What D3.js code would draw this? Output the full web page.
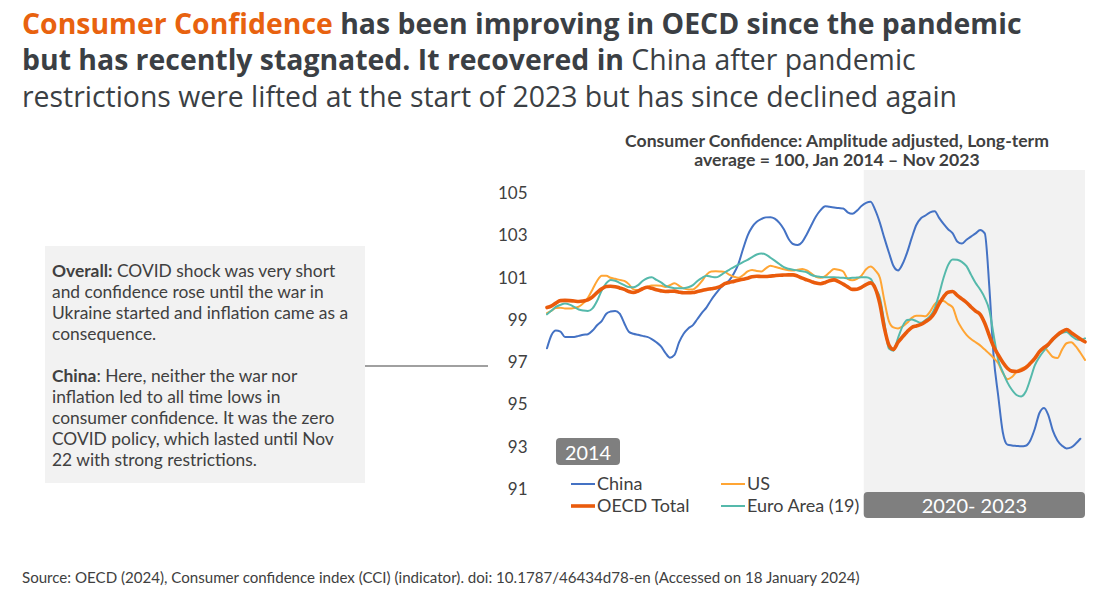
<!DOCTYPE html>
<html><head><meta charset="utf-8">
<script src="https://cdn.jsdelivr.net/npm/d3@7"></script>
<style>body{margin:0;background:#fff} svg{display:block}</style>
</head><body>
<svg id="c" width="1096" height="600"></svg>
<script>
// Monthly values, Jan 2014 onward (China ends Oct 2023, others Nov 2023)
const china = [97.66,98.3,98.5,98.45,98.2,98.2,98.2,98.25,98.3,98.33,98.5,98.75,
98.95,99.3,99.4,99.43,99.3,98.85,98.45,98.35,98.3,98.25,98.2,98.1,
97.95,97.75,97.45,97.22,97.35,97.95,98.35,98.6,98.76,99.05,99.35,99.6,
99.95,100.25,100.5,100.7,100.87,101.2,101.65,102.35,103.0,103.4,103.65,103.78,
103.86,103.87,103.8,103.6,103.3,102.85,102.6,102.55,102.7,103.06,103.5,103.9,
104.2,104.39,104.36,104.33,104.3,104.28,104.1,104.03,104.18,104.4,104.55,104.6,
104.2,103.6,102.9,102.2,101.57,101.35,101.65,102.2,102.9,103.5,103.82,103.95,
104.1,104.15,103.85,103.55,103.3,103.1,102.72,102.62,102.8,102.95,103.1,103.26,
103.1,100.5,97.3,95.4,93.7,93.1,93.06,93.04,93.02,93.05,93.3,93.85,
94.6,94.84,94.5,93.75,93.3,93.05,92.92,92.97,93.15,93.38];
const oecd = [99.59,99.67,99.8,99.92,99.93,99.92,99.9,99.88,99.9,99.95,100.1,100.3,
100.48,100.59,100.6,100.58,100.52,100.45,100.35,100.3,100.37,100.48,100.55,100.5,
100.43,100.38,100.35,100.36,100.37,100.32,100.29,100.29,100.3,100.35,100.4,100.45,
100.48,100.52,100.58,100.72,100.78,100.83,100.88,100.93,100.98,101.05,101.07,101.06,
101.06,101.08,101.1,101.12,101.13,101.14,101.14,101.08,100.98,100.9,100.82,100.75,
100.72,100.78,100.86,100.9,100.82,100.7,100.57,100.45,100.46,100.55,100.68,100.76,
100.5,99.75,98.65,97.82,97.61,97.95,98.2,98.45,98.65,98.72,98.79,98.92,
99.07,99.35,99.75,100.1,100.32,100.35,100.17,100.0,99.83,99.62,99.42,99.27,
98.85,98.25,97.75,97.35,97.0,96.72,96.58,96.56,96.62,96.74,96.95,97.18,
97.5,97.7,97.85,98.1,98.3,98.45,98.55,98.4,98.25,98.1,97.97];
const us = [99.33,99.45,99.57,99.58,99.55,99.54,99.57,99.63,99.8,100.05,100.45,100.85,
101.1,101.1,101.0,100.95,100.9,100.85,100.7,100.45,100.42,100.5,100.58,100.63,
100.63,100.62,100.56,100.65,100.74,100.62,100.5,100.45,100.45,100.6,100.85,101.15,
101.3,101.31,101.3,101.28,101.15,101.05,101.0,101.12,101.3,101.37,101.32,101.3,
101.45,101.57,101.52,101.46,101.4,101.36,101.34,101.38,101.42,101.35,101.2,101.05,
101.0,101.08,101.25,101.42,101.38,101.3,100.95,100.88,100.95,101.1,101.4,101.53,
101.35,101.0,99.95,98.95,98.65,98.6,98.7,98.87,99.1,99.2,99.2,99.18,
99.4,99.75,99.9,99.9,99.75,99.6,99.0,98.6,98.3,98.1,97.95,97.8,
97.6,97.4,97.2,96.95,96.5,96.2,96.3,96.55,96.7,96.8,96.95,97.2,
97.5,97.7,97.5,97.25,97.2,97.6,97.9,97.95,97.75,97.45,97.11];
const euro = [99.27,99.45,99.62,99.72,99.78,99.73,99.62,99.5,99.45,99.43,99.55,99.9,
100.4,100.75,100.9,100.86,100.76,100.65,100.56,100.55,100.65,100.85,100.98,101.02,
100.9,100.78,100.63,100.55,100.51,100.5,100.51,100.55,100.65,100.85,101.0,101.1,
101.05,101.02,101.1,101.25,101.38,101.5,101.62,101.74,101.85,101.98,102.1,102.15,
102.1,101.95,101.81,101.65,101.5,101.43,101.38,101.35,101.31,101.26,101.13,101.07,
101.04,101.02,101.02,101.02,101.01,101.0,100.98,101.0,101.01,101.02,101.02,100.95,
100.5,100.05,98.9,97.65,97.55,98.15,98.7,99.0,99.02,98.95,98.87,99.0,
99.18,99.55,100.2,101.0,101.6,101.87,101.85,101.75,101.55,101.15,100.75,100.45,
100.05,99.45,98.3,97.1,96.55,96.05,95.7,95.45,95.38,95.6,96.2,96.85,
97.25,97.55,97.8,98.05,98.25,98.4,98.43,98.26,98.1,98.05,98.13];
const seriesNames = ["China","US","Euro Area (19)","OECD Total"];
const yTicks = [91,93,95,97,99,101,103,105];

const months = d3.timeMonth.range(new Date(2014,0,1), new Date(2023,11,1));
const svg = d3.select("#c");
const TXT = "#404040";

const x = d3.scaleTime().domain([months[0], months[months.length-1]]).range([547,1085]);
const y = d3.scaleLinear().domain([91,105]).range([489,193.3]);

// title
const TF = "28.4px";
const title = svg.append("text").attr("x",22).attr("y",34)
  .style("font-family","'Open Sans'").style("font-size",TF).attr("fill","#3b3f44");
title.append("tspan").attr("font-weight",700).attr("fill","#e8620f").text("Consumer Confidence");
title.append("tspan").attr("font-weight",700).text(" has been improving in OECD since the pandemic");
const t2 = svg.append("text").attr("x",22).attr("y",70)
  .style("font-family","'Open Sans'").style("font-size",TF).attr("fill","#3b3f44");
t2.append("tspan").attr("font-weight",700).text("but has recently stagnated. It recovered in ");
t2.append("tspan").attr("font-weight",400).text("China after pandemic");
svg.append("text").attr("x",22).attr("y",107)
  .style("font-family","'Open Sans'").style("font-size",TF).attr("fill","#3b3f44")
  .text("restrictions were lifted at the start of 2023 but has since declined again");

// chart subtitle
const sub = svg.append("text").attr("text-anchor","middle").attr("fill",TXT)
  .style("font-family","Lato").style("font-size","17.6px").attr("font-weight",700);
sub.append("tspan").attr("x",837).attr("y",147).text("Consumer Confidence: Amplitude adjusted, Long-term");
sub.append("tspan").attr("x",837).attr("y",166).text("average = 100, Jan 2014 \u2013 Nov 2023");

// shaded period
const shadeX0 = x(new Date(2019,9,16));
const shadeX1 = x(months[months.length-1]);
svg.append("rect").attr("x",shadeX0).attr("y",170).attr("width",shadeX1-shadeX0).attr("height",330).attr("fill","#f2f2f2");

// y ticks
svg.append("g").selectAll("text").data(yTicks).join("text")
  .attr("x",527.5).attr("y",d=>y(d)).attr("dy","0.35em").attr("text-anchor","end")
  .attr("fill",TXT).style("font-family","Lato").style("font-size","17px").text(d=>d);

// lines
const line = d3.line().x((d,i)=>x(months[i])).y(d=>y(d)).curve(d3.curveMonotoneX);
const styles = [
  {data:china, color:"#4472c4", w:2},
  {data:us, color:"#ffa534", w:2},
  {data:euro, color:"#55b9ab", w:2},
  {data:oecd, color:"#ea5b0c", w:3.6}
];
svg.append("g").selectAll("path").data(styles).join("path")
  .attr("d",s=>line(s.data)).attr("fill","none").attr("stroke",s=>s.color)
  .attr("stroke-width",s=>s.w).attr("stroke-linejoin","round").attr("stroke-linecap","round");

// period labels
svg.append("rect").attr("x",shadeX0).attr("y",492).attr("width",shadeX1-shadeX0).attr("height",26).attr("rx",4).attr("fill","#7f7f7f");
svg.append("text").attr("x",(shadeX0+shadeX1)/2).attr("y",506).attr("dy","0.36em").attr("text-anchor","middle")
  .attr("fill","#fff").style("font-family","Lato").style("font-size","20px").text("2020- 2023");
svg.append("rect").attr("x",556).attr("y",438).attr("width",64).attr("height",27).attr("rx",4).attr("fill","#7f7f7f");
svg.append("text").attr("x",588).attr("y",453).attr("dy","0.36em").attr("text-anchor","middle")
  .attr("fill","#fff").style("font-family","Lato").style("font-size","19.8px").text("2014");

// legend
const legendItems = [
  {name:seriesNames[0], color:"#4472c4", w:2, lx:571, ly:484},
  {name:seriesNames[3], color:"#ea5b0c", w:3.6, lx:571, ly:506},
  {name:seriesNames[1], color:"#ffa534", w:2, lx:721, ly:484},
  {name:seriesNames[2], color:"#55b9ab", w:2, lx:721, ly:506}
];
const lg = svg.append("g").selectAll("g").data(legendItems).join("g");
lg.append("line").attr("x1",d=>d.lx).attr("x2",d=>d.lx+24).attr("y1",d=>d.ly).attr("y2",d=>d.ly)
  .attr("stroke",d=>d.color).attr("stroke-width",d=>d.w);
lg.append("text").attr("x",d=>d.lx+26).attr("y",d=>d.ly).attr("dy","0.35em").attr("fill",TXT)
  .style("font-family","Lato").style("font-size","18px").text(d=>d.name);

// annotation box
svg.append("rect").attr("x",45).attr("y",246).attr("width",320).attr("height",237).attr("fill","#f2f2f2");
svg.append("line").attr("x1",365).attr("x2",488).attr("y1",366).attr("y2",366).attr("stroke","#808080").attr("stroke-width",1.3);
const boxLines = [
  [["Overall:",700],[" COVID shock was very short",400]],
  [["and confidence rose until the war in",400]],
  [["Ukraine started and inflation came as a",400]],
  [["consequence.",400]],
  [],
  [["China",700],[": Here, neither the war nor",400]],
  [["inflation led to all time lows in",400]],
  [["consumer confidence. It was the zero",400]],
  [["COVID policy, which lasted until Nov",400]],
  [["22 with strong restrictions.",400]]
];
boxLines.forEach((ln,i)=>{
  const t = svg.append("text").attr("x",52).attr("y",271+i*21).attr("dy","0.35em").attr("fill",TXT)
    .style("font-family","Lato").style("font-size","17.4px");
  ln.forEach(([s,w])=>t.append("tspan").attr("font-weight",w).text(s));
});

// source
svg.append("text").attr("x",22).attr("y",578).attr("dy","0.35em").attr("fill",TXT)
  .style("font-family","Lato").style("font-size","15.1px")
  .text("Source: OECD (2024), Consumer confidence index (CCI) (indicator). doi: 10.1787/46434d78-en (Accessed on 18 January 2024)");
</script>
</body></html>
